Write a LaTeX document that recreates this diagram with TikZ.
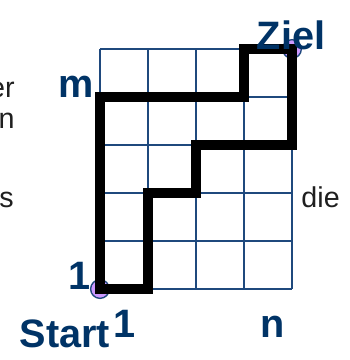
\documentclass[tikz,border=0pt]{standalone}
\usepackage{fontspec}
\setmainfont{Liberation Sans}
\usepackage{tikz}
\usetikzlibrary{positioning}
\definecolor{wegblue}{RGB}{0,51,102}
\definecolor{wegline}{RGB}{31,73,125}
\definecolor{weglila}{RGB}{204,153,255}

\begin{document}
\begin{tikzpicture}[
    gridline/.style={draw=wegline, line width=1.1pt},
    route/.style={draw=black, line width=5.6pt, line join=miter},
    endpt/.style={circle, draw=wegline, fill=weglila, line width=0.8pt,
                  minimum size=0.39cm, inner sep=0pt},
    label/.style={font=\fontsize{23.5}{26}\selectfont\bfseries, text=wegblue,
                  inner sep=0pt, anchor=base},
    side/.style={font=\fontsize{17}{19}\selectfont, text=black!88,
                 inner sep=0pt}
]
\useasboundingbox (-2.083,-1.479) rectangle (5.208,6.021);

% Gitter m x n
\draw[gridline] (0,0) grid (4,5);

\node[endpt] (start) at (0,0) {};
\node[endpt] (ziel) at (4,5) {};

% zwei Wege von Start nach Ziel
\draw[route] (start.center) -- (0,4) -- (3,4) -- (3,5) -- (ziel.center)
    -- (4,3) -- (2,3) -- (2,2) -- (1,2) -- (1,0) -- cycle;

\node[label] (lm) at (-0.5,3.98) {m};
\node[label] (lziel) at (3.98,5.0) {Ziel};
\node[label] (leins) at (-0.43,0) {1};
\node[label] (lstart) at (-0.73,-1.21) {Start};
\node[label] (leinsb) at (0.52,-1.0) {1};
\node[label] (ln) at (3.59,-1.0) {n};

\node[side, anchor=base east] (ter) at (-1.77,4.0) {er};
\node[side, anchor=base east] (tn) at (-1.77,3.35) {n};
\node[side, anchor=base east] (ts) at (-1.79,1.69) {s};
\node[side, anchor=base west] (tdie) at (4.19,1.69) {die};
\end{tikzpicture}
\end{document}
